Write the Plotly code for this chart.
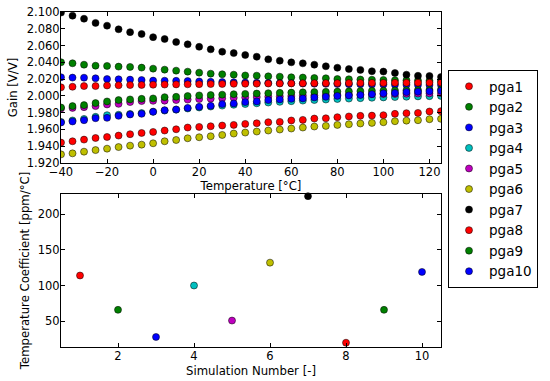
import plotly.graph_objects as go

temps = [-40, -35, -30, -25, -20, -15, -10, -5, 0, 5, 10, 15, 20, 25, 30, 35, 40,
         45, 50, 55, 60, 65, 70, 75, 80, 85, 90, 95, 100, 105, 110, 115, 120, 125]

pga1 = [1.9443, 1.9459, 1.9479, 1.9498, 1.9510, 1.9527, 1.9543, 1.9558, 1.9570, 1.9587,
        1.9602, 1.9623, 1.9630, 1.9638, 1.9647, 1.9654, 1.9666, 1.9674, 1.9686, 1.9690,
        1.9707, 1.9714, 1.9730, 1.9733, 1.9746, 1.9755, 1.9762, 1.9765, 1.9770, 1.9786,
        1.9794, 1.9797, 1.9814, 1.9818]
pga2 = [2.0401, 2.0389, 2.0372, 2.0360, 2.0357, 2.0349, 2.0345, 2.0337, 2.0325, 2.0313,
        2.0301, 2.0289, 2.0277, 2.0265, 2.0258, 2.0253, 2.0244, 2.0241, 2.0233, 2.0229,
        2.0222, 2.0219, 2.0213, 2.0210, 2.0201, 2.0198, 2.0195, 2.0193, 2.0190, 2.0186,
        2.0185, 2.0182, 2.0180, 2.0177]
pga3 = [2.0222, 2.0218, 2.0217, 2.0210, 2.0201, 2.0198, 2.0194, 2.0189, 2.0182, 2.0181,
        2.0180, 2.0177, 2.0172, 2.0168, 2.0165, 2.0162, 2.0160, 2.0157, 2.0154, 2.0152,
        2.0150, 2.0148, 2.0146, 2.0144, 2.0142, 2.0140, 2.0138, 2.0136, 2.0135, 2.0133,
        2.0132, 2.0131, 2.0130, 2.0129]
pga4 = [1.9690, 1.9707, 1.9725, 1.9750, 1.9770, 1.9775, 1.9785, 1.9795, 1.9812, 1.9825,
        1.9836, 1.9850, 1.9862, 1.9873, 1.9884, 1.9894, 1.9903, 1.9912, 1.9921, 1.9929,
        1.9937, 1.9944, 1.9951, 1.9957, 1.9963, 1.9968, 1.9973, 1.9978, 1.9982, 1.9986,
        1.9990, 1.9994, 1.9997, 2.0000]
pga5 = [1.9850, 1.9857, 1.9866, 1.9878, 1.9898, 1.9905, 1.9926, 1.9938, 1.9941, 1.9943,
        1.9950, 1.9956, 1.9962, 1.9967, 1.9972, 1.9977, 1.9982, 1.9986, 1.9990, 1.9994,
        1.9998, 2.0002, 2.0005, 2.0008, 2.0011, 2.0014, 2.0017, 2.0020, 2.0022, 2.0024,
        2.0026, 2.0028, 2.0030, 2.0032]
pga6 = [1.9303, 1.9315, 1.9335, 1.9354, 1.9371, 1.9390, 1.9407, 1.9419, 1.9435, 1.9459,
        1.9474, 1.9495, 1.9507, 1.9519, 1.9534, 1.9551, 1.9563, 1.9575, 1.9587, 1.9599,
        1.9611, 1.9623, 1.9635, 1.9642, 1.9654, 1.9662, 1.9671, 1.9678, 1.9686, 1.9698,
        1.9705, 1.9710, 1.9722, 1.9726]
pga7 = [2.0993, 2.0956, 2.0920, 2.0870, 2.0837, 2.0794, 2.0760, 2.0738, 2.0700, 2.0678,
        2.0642, 2.0615, 2.0585, 2.0555, 2.0527, 2.0510, 2.0487, 2.0467, 2.0436, 2.0420,
        2.0400, 2.0388, 2.0372, 2.0353, 2.0336, 2.0320, 2.0310, 2.0294, 2.0290, 2.0273,
        2.0253, 2.0240, 2.0237, 2.0225]
pga8 = [2.0102, 2.0109, 2.0117, 2.0117, 2.0124, 2.0126, 2.0129, 2.0130, 2.0133, 2.0135,
        2.0137, 2.0138, 2.0140, 2.0141, 2.0142, 2.0144, 2.0145, 2.0146, 2.0147, 2.0148,
        2.0149, 2.0150, 2.0151, 2.0152, 2.0152, 2.0153, 2.0154, 2.0155, 2.0155, 2.0156,
        2.0156, 2.0157, 2.0157, 2.0158]
pga9 = [1.9862, 1.9878, 1.9890, 1.9914, 1.9934, 1.9950, 1.9958, 1.9965, 1.9970, 1.9985,
        1.9989, 1.9998, 2.0006, 2.0010, 2.0015, 2.0020, 2.0024, 2.0028, 2.0032, 2.0036,
        2.0039, 2.0042, 2.0045, 2.0048, 2.0051, 2.0054, 2.0057, 2.0060, 2.0062, 2.0065,
        2.0068, 2.0070, 2.0072, 2.0076]
pga10 = [1.9683, 1.9695, 1.9710, 1.9734, 1.9738, 1.9762, 1.9778, 1.9786, 1.9810, 1.9830,
         1.9838, 1.9857, 1.9870, 1.9882, 1.9902, 1.9910, 1.9926, 1.9934, 1.9950, 1.9958,
         1.9965, 1.9970, 1.9982, 1.9989, 2.0000, 2.0006, 2.0010, 2.0021, 2.0030, 2.0034,
         2.0045, 2.0050, 2.0055, 2.0060]

series_names = ["pga1", "pga2", "pga3", "pga4", "pga5", "pga6", "pga7", "pga8", "pga9", "pga10"]
series_values = [pga1, pga2, pga3, pga4, pga5, pga6, pga7, pga8, pga9, pga10]
series_colors = ["#FF0000", "#008000", "#0000FF", "#00BFBF", "#BF00BF",
                 "#BFBF00", "#000000", "#FF0000", "#008000", "#0000FF"]

sim_numbers = [1, 2, 3, 4, 5, 6, 7, 8, 9, 10]
temp_coeff = [114, 66, 28, 100, 51, 132, 225, 20, 66, 119]

FONT = "DejaVu Sans"
W, H = 550, 381
ML, MR, MT, MB = 61, 109, 12, 34
PW, PH = W - ML - MR, H - MT - MB


def ydom(top_px, bottom_px):
    return [(H - MB - bottom_px) / PH, (H - MB - top_px) / PH]


fig = go.Figure()
for name, vals, col in zip(series_names, series_values, series_colors):
    fig.add_trace(go.Scatter(
        x=temps, y=vals, mode="markers", name=name,
        marker=dict(color=col, size=7, line=dict(color="#000000", width=0.5)),
        xaxis="x", yaxis="y", cliponaxis=True,
    ))

fig.add_trace(go.Scatter(
    x=sim_numbers, y=temp_coeff, mode="markers", showlegend=False,
    marker=dict(color=series_colors, size=7, line=dict(color="#000000", width=0.5)),
    xaxis="x2", yaxis="y2", cliponaxis=False,
))

axis_common = dict(
    showgrid=False, zeroline=False, showline=True, linecolor="#000000", linewidth=1,
    mirror="ticks", ticks="inside", ticklen=4, tickcolor="#000000", tickwidth=0.8,
    tickfont=dict(family=FONT, size=11.5, color="#000000"), automargin=False,
)
title_font = dict(family=FONT, size=11.7, color="#000000")

fig.update_layout(
    width=W, height=H,
    margin=dict(l=ML, r=MR, t=MT, b=MB, autoexpand=False),
    paper_bgcolor="#FFFFFF", plot_bgcolor="#FFFFFF",
    font=dict(family=FONT, size=12, color="#000000"),
    xaxis=dict(domain=[0, 1], range=[-40, 125], tickvals=[-40, -20, 0, 20, 40, 60, 80, 100, 120],
               anchor="y", ticklabelstandoff=-2,
               title=dict(text="Temperature [°C]", font=title_font, standoff=2),
               **axis_common),
    yaxis=dict(domain=ydom(12, 163), range=[1.92, 2.10], dtick=0.02, tick0=1.92,
               tickformat=".3f", anchor="x", ticklabelstandoff=-2,
               title=dict(text="Gain [V/V]", font=title_font, standoff=6),
               **axis_common),
    xaxis2=dict(domain=[0, 1], range=[0.5, 10.5], tickvals=[2, 4, 6, 8, 10], anchor="y2",
                ticklabelstandoff=-2,
                title=dict(text="Simulation Number [-]", font=title_font, standoff=5),
                **axis_common),
    yaxis2=dict(domain=ydom(194, 347), range=[14, 228], tickvals=[50, 100, 150, 200],
                anchor="x2", ticklabelstandoff=-2,
                title=dict(text="Temperature Coefficient [ppm/°C]", font=title_font, standoff=5),
                **axis_common),
    legend=dict(x=(448 - ML) / PW, y=(H - MB - 70) / PH, xanchor="left", yanchor="top",
                bordercolor="#000000", borderwidth=1, bgcolor="#FFFFFF",
                font=dict(family=FONT, size=13.5, color="#000000"),
                tracegroupgap=0, itemwidth=30),
)

fig.write_html("out.html", config={"displayModeBar": False},
               post_script="document.body.style.margin='0';")
